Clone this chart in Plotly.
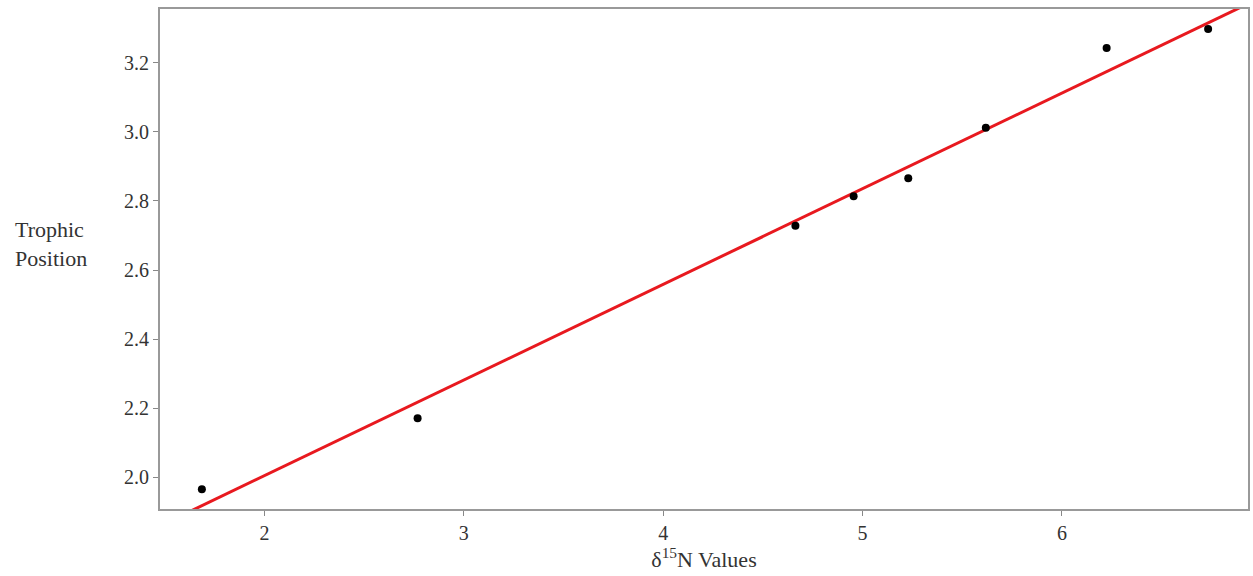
import numpy as np
import plotly.graph_objects as go

d15n = [1.686, 2.768, 4.663, 4.955, 5.229, 5.618, 6.224, 6.733]
trophic = [1.965, 2.171, 2.728, 2.814, 2.866, 3.012, 3.243, 3.298]
x_ticks = [2, 3, 4, 5, 6]
y_ticks = [2.0, 2.2, 2.4, 2.6, 2.8, 3.0, 3.2]

slope, intercept = np.polyfit(d15n, trophic, 1)
xr = [1.476, 6.933]
yr = [1.908, 3.356]
line_x = [xr[0] - 0.5, xr[1] + 0.5]
line_y = [slope * v + intercept for v in line_x]

font = "Liberation Serif, Times New Roman, serif"
fig = go.Figure()
fig.add_trace(go.Scatter(x=line_x, y=line_y, mode="lines",
                         line=dict(color="#e8191f", width=3), showlegend=False))
fig.add_trace(go.Scatter(x=d15n, y=trophic, mode="markers",
                         marker=dict(color="black", size=8), showlegend=False))

fig.update_layout(
    width=1253, height=576,
    margin=dict(l=160, r=3, t=9, b=67),
    plot_bgcolor="white", paper_bgcolor="white",
    font=dict(family=font, size=20, color="#333"),
    annotations=[dict(text="Trophic<br>Position", x=-0.1, y=0.53, xref="paper", yref="paper",
                      showarrow=False, font=dict(size=22, family=font, color="#333"), align="left",
                      xanchor="center", yanchor="middle")],
)
fig.update_xaxes(range=xr, tickvals=x_ticks, ticks="outside", ticklen=5, tickcolor="#888",
                 showgrid=False, zeroline=False, showline=True, linecolor="#999", linewidth=2,
                 mirror=True, title=dict(text="δ<sup>15</sup>N Values", font=dict(size=22), standoff=4))
fig.update_yaxes(range=yr, tickvals=y_ticks, tickformat=".1f", ticks="outside", ticklen=5, tickcolor="#888",
                 showgrid=False, zeroline=False, showline=True, linecolor="#999", linewidth=2, mirror=True)
fig.write_html("out.html", config={"displayModeBar": False},
               post_script="document.body.style.margin='0';")
